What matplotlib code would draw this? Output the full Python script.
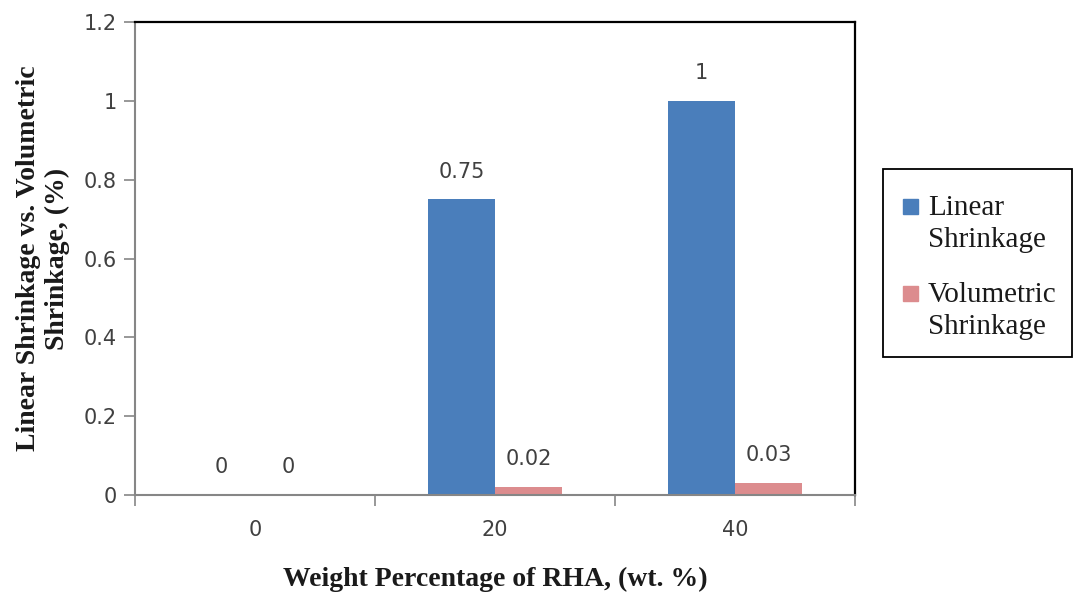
import numpy as np
import matplotlib
matplotlib.use("Agg")
import matplotlib.pyplot as plt
from matplotlib.patches import Rectangle

# data
# =========================
categories = ["0", "20", "40"]
series_names = ["Linear\nShrinkage", "Volumetric\nShrinkage"]
linear = [0, 0.75, 1]
volumetric = [0, 0.02, 0.03]
linear_labels = ["0", "0.75", "1"]
volumetric_labels = ["0", "0.02", "0.03"]
yticks = [0, 0.2, 0.4, 0.6, 0.8, 1, 1.2]
ytick_labels = ["0", "0.2", "0.4", "0.6", "0.8", "1", "1.2"]

BLUE = "#4A7EBB"
PINK = "#DC8C8E"
GREY = "#868686"
TXT = "#404040"
SANS = "DejaVu Sans"
SERIF = "Liberation Serif"

fig = plt.figure(figsize=(10.73, 5.95), dpi=100)
ax = fig.add_axes([0.1258, 0.168, 0.671, 0.795])

x = np.arange(len(categories))
w = 0.28
b1 = ax.bar(x - w / 2, linear, w, color=BLUE)
b2 = ax.bar(x + w / 2, volumetric, w, color=PINK)

# data labels
for bars, labels in ((b1, linear_labels), (b2, volumetric_labels)):
    for rect, lab in zip(bars, labels):
        ax.annotate(lab, (rect.get_x() + rect.get_width() / 2, rect.get_height()),
                    xytext=(0, 20), textcoords="offset points",
                    ha="center", va="center", fontsize=15,
                    family=SANS, color=TXT)

ax.set_xlim(-0.5, 2.5)
ax.set_ylim(0, 1.2)

# y axis
ax.set_yticks(yticks)
ax.set_yticklabels(ytick_labels, family=SANS, fontsize=15, color=TXT)
ax.tick_params(axis="y", direction="out", length=8, width=1.2, color=GREY, pad=5)

# x axis: ticks between categories, labels at centres
ax.set_xticks([-0.5, 0.5, 1.5, 2.5])
ax.set_xticklabels([])
ax.tick_params(axis="x", which="major", direction="out", length=8, width=1.2, color=GREY)
ax.set_xticks(x, minor=True)
ax.set_xticklabels(categories, minor=True, family=SANS, fontsize=15, color=TXT)
ax.tick_params(axis="x", which="minor", length=0, pad=18)

for s in ("left", "bottom"):
    ax.spines[s].set_color(GREY)
    ax.spines[s].set_linewidth(1.5)
for s in ("top", "right"):
    ax.spines[s].set_color("black")
    ax.spines[s].set_linewidth(1.6)

ax.set_ylabel("Linear Shrinkage vs. Volumetric\nShrinkage, (%)",
              family=SERIF, fontweight="bold", fontsize=20, labelpad=10, color="#1a1a1a")
ax.set_xlabel("Weight Percentage of RHA, (wt. %)",
              family=SERIF, fontweight="bold", fontsize=20, labelpad=19, color="#1a1a1a")

# legend box drawn by hand so the swatch sits on the first text line
W, H = 1073, 595
fig.patches.append(Rectangle((883 / W, 1 - 357 / H), 189 / W, 188 / H,
                             transform=fig.transFigure, fill=False,
                             edgecolor="black", linewidth=1.3))
for i, (name, col) in enumerate(zip(series_names, [BLUE, PINK])):
    top = 199 + i * 87
    fig.patches.append(Rectangle((903 / W, 1 - (top + 15) / H), 15 / W, 15 / H,
                                 transform=fig.transFigure, color=col))
    fig.text(928 / W, 1 - (top - 4) / H, name, family=SERIF, fontsize=21,
             color="#1a1a1a", ha="left", va="top", linespacing=1.32)

fig.savefig("out.png", dpi=100)
